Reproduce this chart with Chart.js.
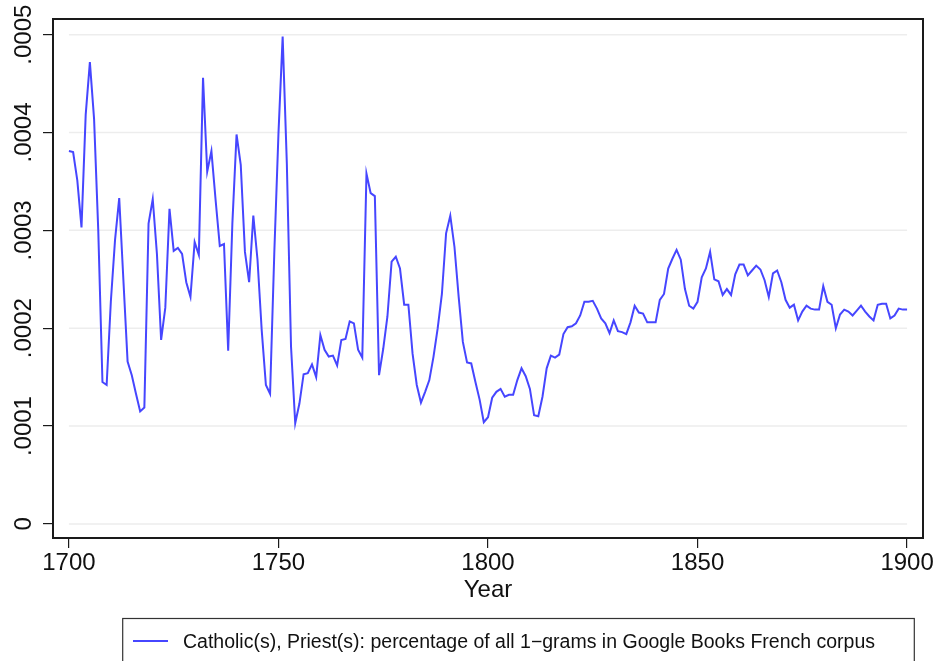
<!DOCTYPE html>
<html>
<head>
<meta charset="utf-8">
<script src="https://cdn.jsdelivr.net/npm/chart.js@4/dist/chart.umd.min.js"></script>
<style>
  html, body { margin: 0; padding: 0; background: #fff; }
  #wrap { width: 937px; height: 661px; }
</style>
</head>
<body>
<div id="wrap"><canvas id="myChart" width="937" height="661"></canvas></div>
<script>
// Catholic(s), Priest(s) share of all 1-grams, one value per year from 1700
// values in units of 0.0001
const firstYear = 1700;
const catholicPriest = [
  3.81, 3.80, 3.51, 3.03, 4.18, 4.72, 4.14, 3.00, 1.45, 1.42,
  2.27, 2.90, 3.33, 2.49, 1.66, 1.52, 1.33, 1.15, 1.19, 3.07,
  3.32, 2.76, 1.88, 2.21, 3.22, 2.79, 2.82, 2.76, 2.47, 2.32,
  2.88, 2.75, 4.56, 3.60, 3.81, 3.31, 2.84, 2.86, 1.77, 3.07,
  3.98, 3.67, 2.78, 2.47, 3.15, 2.70, 1.98, 1.42, 1.33, 2.76,
  3.99, 4.98, 3.68, 1.81, 1.03, 1.23, 1.53, 1.54, 1.63, 1.50,
  1.93, 1.78, 1.71, 1.72, 1.62, 1.88, 1.89, 2.07, 2.05, 1.78,
  1.70, 3.58, 3.38, 3.35, 1.52, 1.79, 2.12, 2.68, 2.73, 2.61,
  2.24, 2.24, 1.74, 1.42, 1.24, 1.35, 1.47, 1.71, 2.00, 2.35,
  2.97, 3.15, 2.83, 2.32, 1.86, 1.65, 1.64, 1.45, 1.27, 1.04,
  1.09, 1.29, 1.35, 1.38, 1.30, 1.32, 1.32, 1.47, 1.59, 1.51,
  1.38, 1.11, 1.10, 1.30, 1.59, 1.72, 1.70, 1.73, 1.94, 2.01,
  2.02, 2.05, 2.13, 2.27, 2.27, 2.28, 2.20, 2.10, 2.05, 1.95,
  2.08, 1.97, 1.96, 1.94, 2.06, 2.23, 2.16, 2.15, 2.06, 2.06,
  2.06, 2.29, 2.35, 2.61, 2.71, 2.80, 2.70, 2.40, 2.23, 2.20,
  2.27, 2.52, 2.61, 2.78, 2.50, 2.48, 2.34, 2.40, 2.34, 2.55,
  2.65, 2.65, 2.54, 2.59, 2.64, 2.60, 2.49, 2.32, 2.56, 2.59,
  2.47, 2.29, 2.21, 2.24, 2.08, 2.17, 2.23, 2.20, 2.19, 2.19,
  2.43, 2.27, 2.24, 2.00, 2.14, 2.19, 2.17, 2.13, 2.18, 2.23,
  2.17, 2.12, 2.08, 2.24, 2.25, 2.25, 2.10, 2.13, 2.20, 2.19,
  2.19
];
const seriesLabel = 'Catholic(s), Priest(s): percentage of all 1\u2212grams in Google Books French corpus';

const xTicks = [1700, 1750, 1800, 1850, 1900];
const xTickLabels = ['1700', '1750', '1800', '1850', '1900'];
const yTickValues = [0, 0.0001, 0.0002, 0.0003, 0.0004, 0.0005];
const yTickLabels = ['0', '.0001', '.0002', '.0003', '.0004', '.0005'];

const fam = '"Liberation Sans", Arial, Helvetica, sans-serif';
const lineColor = '#4646ff';

const pontos = catholicPriest.map((v, i) => ({ x: firstYear + i, y: v * 1e-4 }));

// grid lines only over the data range, plus the closed frame
const molduraGrade = {
  id: 'molduraGrade',
  beforeDatasetsDraw(chart) {
    const { ctx, chartArea: a, scales: { x, y } } = chart;
    const x0 = x.getPixelForValue(xTicks[0]);
    const x1 = x.getPixelForValue(xTicks[xTicks.length - 1]);
    ctx.save();
    ctx.strokeStyle = '#ededed';
    ctx.lineWidth = 1.5;
    yTickValues.forEach(v => {
      const py = y.getPixelForValue(v);
      ctx.beginPath();
      ctx.moveTo(x0, py);
      ctx.lineTo(x1, py);
      ctx.stroke();
    });
    ctx.strokeStyle = '#1a1a1a';
    ctx.lineWidth = 2;
    ctx.strokeRect(a.left, a.top, a.right - a.left, a.bottom - a.top);
    ctx.restore();
  }
};

// Stata style boxed legend under the axis title
const legendaCaixa = {
  id: 'legendaCaixa',
  afterDraw(chart) {
    const { ctx } = chart;
    const ds = chart.data.datasets[0];
    ctx.save();
    ctx.strokeStyle = '#333';
    ctx.lineWidth = 1.2;
    ctx.strokeRect(122.7, 618.5, 791.6, 70);
    ctx.strokeStyle = ds.borderColor;
    ctx.lineWidth = 2;
    ctx.beginPath();
    ctx.moveTo(133, 641);
    ctx.lineTo(168, 641);
    ctx.stroke();
    ctx.fillStyle = '#111';
    ctx.font = '19.5px ' + fam;
    ctx.textBaseline = 'alphabetic';
    ctx.fillText(ds.label, 183, 648.3);
    ctx.restore();
  }
};

const ctx = document.getElementById('myChart');

new Chart(ctx, {
  type: 'line',
  data: {
    datasets: [{
      label: seriesLabel,
      data: pontos,
      borderColor: lineColor,
      backgroundColor: lineColor,
      borderWidth: 2,
      pointRadius: 0,
      tension: 0,
      fill: false
    }]
  },
  options: {
    responsive: false,
    animation: false,
    layout: { padding: { top: 19, right: 14, bottom: 56, left: 0 } },
    plugins: {
      legend: { display: false },
      tooltip: { enabled: false }
    },
    scales: {
      x: {
        type: 'linear',
        min: 1696.2,
        max: 1903.8,
        afterBuildTicks: s => { s.ticks = xTicks.map(v => ({ value: v })); },
        afterFit: s => { s.height = 67; },
        grid: { drawOnChartArea: false, drawTicks: true, tickLength: 10, color: '#1a1a1a', lineWidth: 1.2 },
        border: { display: false },
        ticks: {
          autoSkip: false,
          maxRotation: 0,
          padding: 1,
          color: '#111',
          font: { family: fam, size: 24 },
          callback: (v, i) => xTickLabels[i]
        },
        title: {
          display: true,
          text: 'Year',
          color: '#111',
          padding: 0,
          font: { family: fam, size: 24 }
        }
      },
      y: {
        type: 'linear',
        min: -0.0000144,
        max: 0.000516,
        afterBuildTicks: s => { s.ticks = yTickValues.map(v => ({ value: v })); },
        afterFit: s => { s.width = 53; },
        grid: { drawOnChartArea: false, drawTicks: true, tickLength: 10, color: '#1a1a1a', lineWidth: 1.2 },
        border: { display: false },
        ticks: {
          autoSkip: false,
          minRotation: 90,
          maxRotation: 90,
          crossAlign: 'center',
          padding: -11,
          color: '#111',
          font: { family: fam, size: 24 },
          callback: (v, i) => yTickLabels[i]
        }
      }
    }
  },
  plugins: [molduraGrade, legendaCaixa]
});
</script>
</body>
</html>
